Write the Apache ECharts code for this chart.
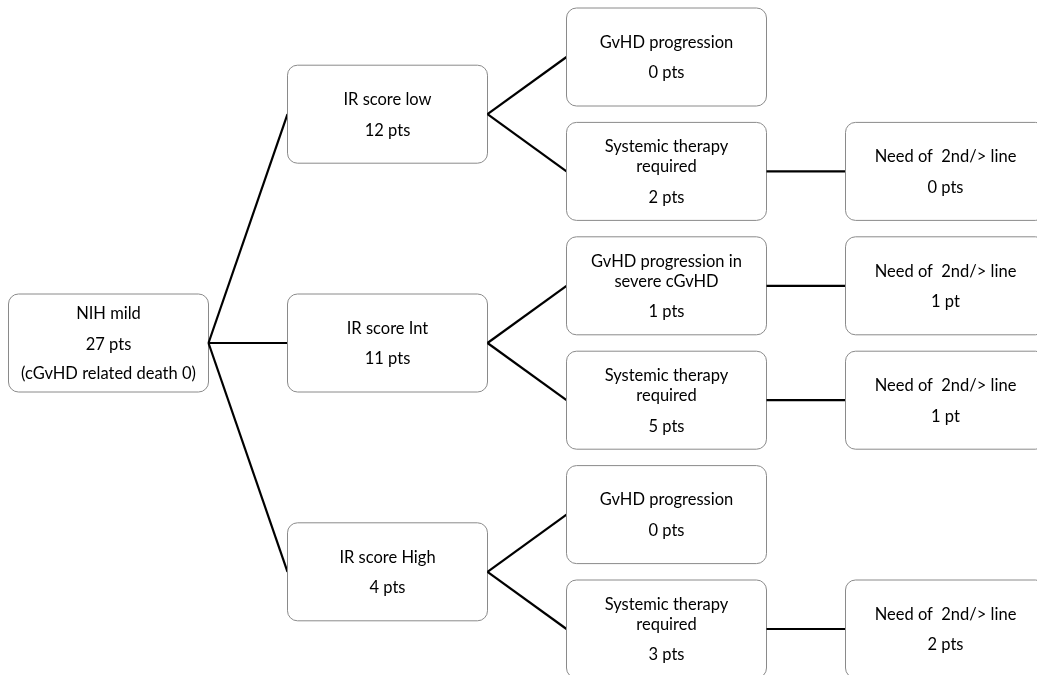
<!DOCTYPE html>
<html>
<head>
<meta charset="utf-8">
<script src="https://cdn.jsdelivr.net/npm/echarts@6/dist/echarts.min.js"></script>
<style>
  html, body { margin: 0; padding: 0; background: #fff; }
  #chart { width: 1037px; height: 675px; }
</style>
</head>
<body>
<div id="chart"></div>
<script>
// tree nodes: label, points, optional note, column (level), row slot, parent index
const nodeNames = [
  "NIH mild",
  "IR score low", "IR score Int", "IR score High",
  "GvHD progression", "Systemic therapy\nrequired",
  "GvHD progression in\nsevere cGvHD", "Systemic therapy\nrequired",
  "GvHD progression", "Systemic therapy\nrequired",
  "Need of  2nd/> line", "Need of  2nd/> line", "Need of  2nd/> line", "Need of  2nd/> line"
];
const nodePoints = [
  "27 pts",
  "12 pts", "11 pts", "4 pts",
  "0 pts", "2 pts", "1 pts", "5 pts", "0 pts", "3 pts",
  "0 pts", "1 pt", "1 pt", "2 pts"
];
const nodeNotes = ["(cGvHD related death 0)", "", "", "", "", "", "", "", "", "", "", "", "", ""];
const nodeLevels = [0, 1, 1, 1, 2, 2, 2, 2, 2, 2, 3, 3, 3, 3];
const nodeRows = [2.5, 0.5, 2.5, 4.5, 0, 1, 2, 3, 4, 5, 1, 2, 3, 5];
const nodeParents = [-1, 0, 0, 0, 1, 1, 2, 2, 3, 3, 5, 6, 7, 9];

const chart = echarts.init(document.getElementById("chart"));

const FONT = "Lato";
const FS = 16.5;
const BOX_W = 200;
const BOX_H = 98;

function buildText(i) {
  const paras = [nodeNames[i], nodePoints[i]];
  if (nodeNotes[i]) paras.push(nodeNotes[i]);
  const lines = [];
  paras.forEach((para, pi) => {
    para.split("\n").forEach((ln, li) => {
      const tag = pi > 0 && li === 0 ? "p" : "a";
      lines.push("{" + tag + "|" + ln + "}");
    });
  });
  return lines.join("\n");
}

const renderItem = function (params, api) {
  const i = params.dataIndex;
  const c = api.coord([api.value(0), api.value(1)]);
  const children = [];
  const p = nodeParents[i];
  if (p >= 0) {
    const pc = api.coord([nodeLevels[p], nodeRows[p]]);
    children.push({
      type: "line",
      shape: { x1: pc[0] + BOX_W / 2, y1: pc[1], x2: c[0] - BOX_W / 2, y2: c[1] },
      style: { stroke: "#000", lineWidth: 2.2 },
    });
  }
  children.push({
    type: "rect",
    shape: { x: c[0] - BOX_W / 2, y: c[1] - BOX_H / 2, width: BOX_W, height: BOX_H, r: 10 },
    style: { fill: "#fff", stroke: "#8a8a8a", lineWidth: 1 },
  });
  children.push({
    type: "text",
    x: c[0],
    y: c[1],
    style: {
      text: buildText(i),
      align: "center",
      verticalAlign: "middle",
      fill: "#000",
      fontFamily: FONT,
      fontSize: FS,
      rich: {
        a: { fontFamily: FONT, fontSize: FS, fill: "#000", lineHeight: 20 },
        p: { fontFamily: FONT, fontSize: FS, fill: "#000", lineHeight: 29, verticalAlign: "bottom" },
      },
    },
  });
  return { type: "group", children: children };
};

const option = {
  animation: false,
  grid: { left: 108.5, width: 837, top: 57, height: 572 },
  xAxis: { type: "value", min: 0, max: 3, show: false },
  yAxis: { type: "value", min: 0, max: 5, inverse: true, show: false },
  series: [
    {
      type: "custom",
      clip: false,
      renderItem: renderItem,
      data: nodeLevels.map((lv, i) => [lv, nodeRows[i]]),
    },
  ],
};

chart.setOption(option);
</script>
</body>
</html>
